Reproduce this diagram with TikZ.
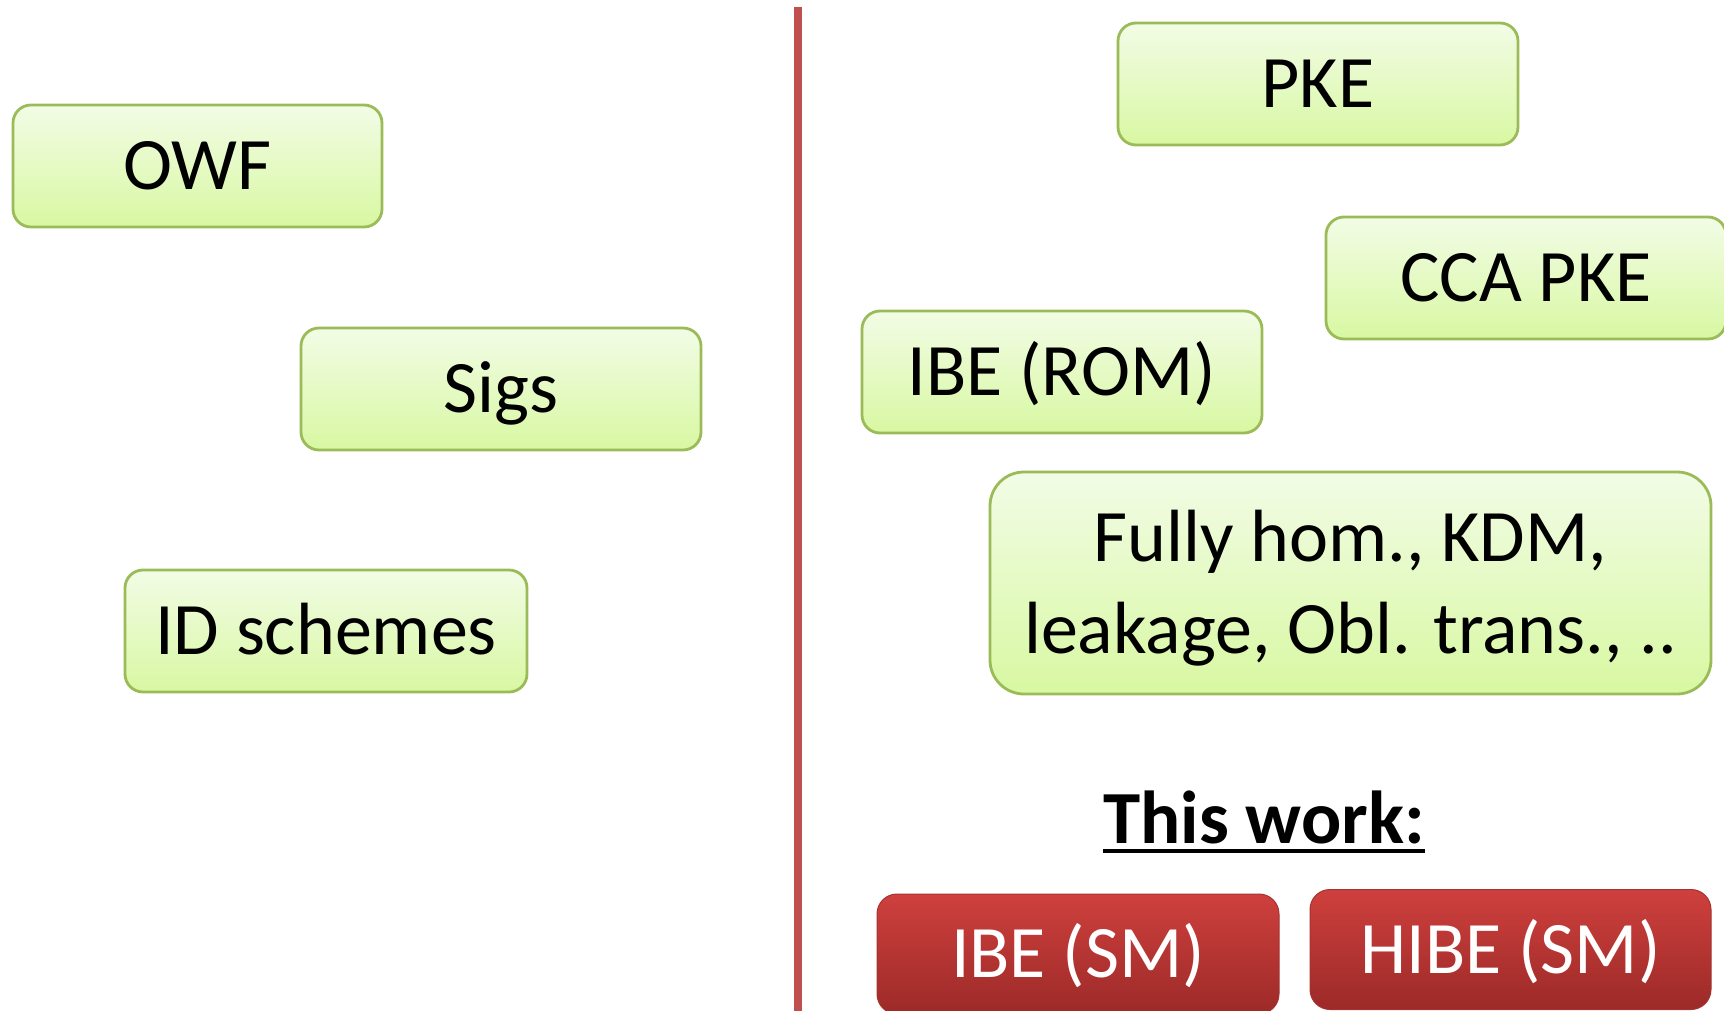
\documentclass[tikz,border=0pt]{standalone}
\usepackage{fontspec}
\setmainfont{Carlito}
\definecolor{gtop}{HTML}{F2FCE6}
\definecolor{gbot}{HTML}{D8F8A2}
\definecolor{gline}{HTML}{9BBB59}
\definecolor{rtop}{HTML}{CE403D}
\definecolor{rbot}{HTML}{9C2A28}
\definecolor{divider}{HTML}{C0504D}
\tikzset{
  bigtext/.style={font=\fontsize{74}{90}\selectfont},
  gbox/.style={bigtext, draw=gline, line width=2.8pt, rounded corners=18pt,
    top color=gtop, bottom color=gbot, inner sep=0pt,
    minimum height=122pt, text height=47pt, text depth=0pt},
  rbox/.style={bigtext, draw=rtop!80!black, line width=1pt, rounded corners=20pt,
    top color=rtop, bottom color=rbot, text=white, inner sep=0pt,
    minimum height=120pt, text height=47pt, text depth=0pt},
}
\begin{document}
\begin{tikzpicture}[x=1pt,y=-1pt]
\useasboundingbox (0,0) rectangle (1724,1011);
% left column
\node[gbox, minimum width=369pt] (owf) at (197.5,166) {OWF};
\node[gbox, minimum width=400pt] (sigs) at (501,389) {Sigs};
\node[gbox, minimum width=402pt] (ids) at (326,631) {ID schemes};
% divider
\coordinate (dtop) at (798,7);
\coordinate (dbot) at (798,1011);
\draw[divider, line width=8pt] (dtop) -- (dbot);
% right column
\node[gbox, minimum width=400pt] (pke) at (1318,84) {PKE};
\node[gbox, minimum width=400pt] (cca) at (1526,278) {CCA PKE};
\node[gbox, minimum width=400pt] (iberom) at (1062,372) {IBE (ROM)};
\node[gbox, minimum width=721pt, minimum height=222pt, rounded corners=34pt,
      text height=, text depth=] (misc) at (1350.5,583) {};
\node[font=\fontsize{74}{92}\selectfont, align=center, inner sep=0pt] (misctext) at ([yshift=-5pt]misc.center)
  {Fully hom., KDM,\\leakage, Obl. trans., ..};
% this work
\node[font=\fontsize{75}{90}\selectfont\bfseries, inner sep=0pt, anchor=base] (tw) at (1264,843) {This work:};
\draw[line width=4pt] ([yshift=-8pt]tw.base west) -- ([yshift=-8pt]tw.base east);
\node[rbox, minimum width=402pt] (ibesm) at (1078,954) {IBE (SM)};
\node[rbox, minimum width=401pt] (hibe) at (1510.5,949.5) {HIBE (SM)};
\end{tikzpicture}
\end{document}
